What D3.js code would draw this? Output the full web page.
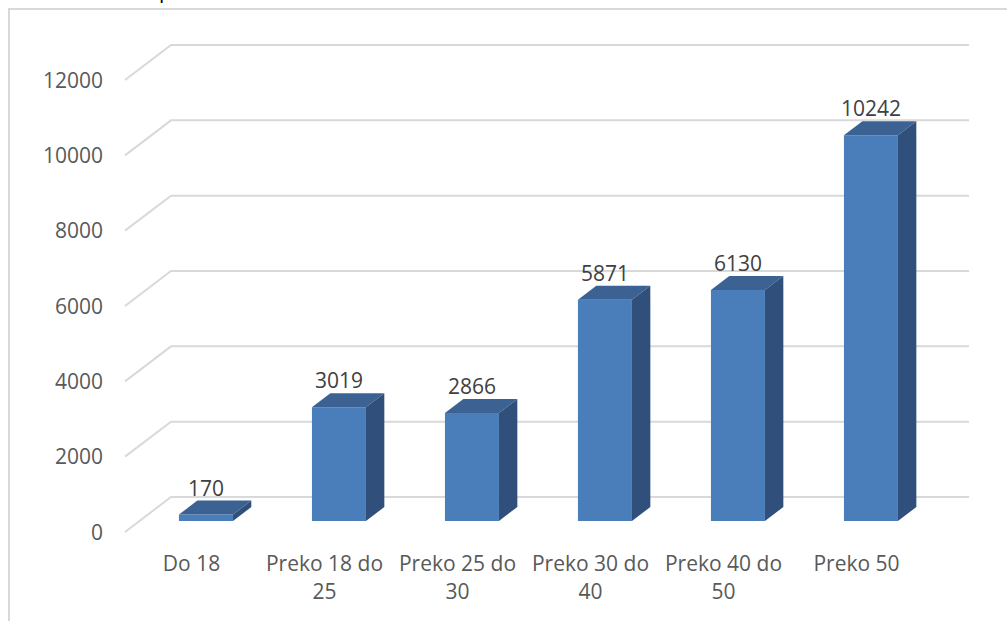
<!DOCTYPE html>
<html>
<head>
<meta charset="utf-8">
<script src="https://cdn.jsdelivr.net/npm/d3@7"></script>
<style>
  html, body { margin: 0; padding: 0; background: #fff; }
  svg { display: block; font-family: "Open Sans", sans-serif; }
</style>
</head>
<body>
<svg id="chart" width="1007" height="621"></svg>
<script>
// ===============================
// DATA
// ===============================

const categories = [
    ["Do 18"],
    ["Preko 18 do", "25"],
    ["Preko 25 do", "30"],
    ["Preko 30 do", "40"],
    ["Preko 40 do", "50"],
    ["Preko 50"]
];

const values = [170, 3019, 2866, 5871, 6130, 10242];

const yTicks = [0, 2000, 4000, 6000, 8000, 10000, 12000];

// ===============================
// SCALES + 3D PROJECTION
// ===============================

const svg = d3.select("#chart");

const depthX = 46, depthY = -35;   // full depth offset of the floor
const barZ0 = 0.314, barZ1 = 0.714; // bar sits in the middle of the depth

const x = d3.scaleBand()
    .domain(d3.range(categories.length))
    .range([125, 923])
    .paddingInner(0)
    .paddingOuter(0);

const y = d3.scaleLinear()
    .domain([0, 12000])
    .range([532, 80]);

function proj(px, v, z) {
    return [px + depthX * z, y(v) + depthY * z];
}

// ===============================
// FRAME + CUT-OFF TITLE
// ===============================

svg.append("text")
    .attr("x", 159)
    .attr("y", -2)
    .attr("font-size", 21)
    .attr("fill", "#000")
    .text("p");

svg.append("path")
    .attr("d", "M9,621 L9,9 L1007,9")
    .attr("fill", "none")
    .attr("stroke", "#d9d9d9")
    .attr("stroke-width", 2);

// ===============================
// GRIDLINES
// ===============================

const line = d3.line();

svg.append("g")
    .selectAll("path")
    .data(yTicks)
    .enter()
    .append("path")
    .attr("d", t => line([
        proj(x.range()[0], t, 0),
        proj(x.range()[0], t, 1),
        proj(x.range()[1], t, 1)
    ]))
    .attr("fill", "none")
    .attr("stroke", "#d9d9d9")
    .attr("stroke-width", 2);

// -------- Y LABELS --------

svg.append("g")
    .selectAll("text")
    .data(yTicks)
    .enter()
    .append("text")
    .attr("x", 103)
    .attr("y", t => y(t))
    .attr("dy", "0.36em")
    .attr("text-anchor", "end")
    .attr("font-size", 21)
    .attr("fill", "#595959")
    .text(t => t);

// ===============================
// BARS
// ===============================

const bw = x.bandwidth() * 0.406;

const bars = svg.append("g")
    .selectAll("g")
    .data(values)
    .enter()
    .append("g");

function barGeom(v, i) {
    const cx = x(i) + x.bandwidth() / 2;
    const l = cx - bw / 2, r = cx + bw / 2;
    return {
        fbl: proj(l, 0, barZ0), fbr: proj(r, 0, barZ0),
        ftl: proj(l, v, barZ0), ftr: proj(r, v, barZ0),
        btl: proj(l, v, barZ1), btr: proj(r, v, barZ1),
        bbr: proj(r, 0, barZ1)
    };
}

// front face
bars.append("path")
    .attr("d", (v, i) => {
        const g = barGeom(v, i);
        return line([g.fbl, g.fbr, g.ftr, g.ftl]) + "Z";
    })
    .attr("fill", "#4a7ebb");

// top face
bars.append("path")
    .attr("d", (v, i) => {
        const g = barGeom(v, i);
        return line([g.ftl, g.ftr, g.btr, g.btl]) + "Z";
    })
    .attr("fill", "#3b6293");

// right side
bars.append("path")
    .attr("d", (v, i) => {
        const g = barGeom(v, i);
        return line([g.fbr, g.bbr, g.btr, g.ftr]) + "Z";
    })
    .attr("fill", "#30507b");

// -------- VALUE LABELS --------

bars.append("text")
    .attr("x", (v, i) => barGeom(v, i).ftl[0] + bw / 2)
    .attr("y", (v, i) => barGeom(v, i).btl[1] - 5)
    .attr("text-anchor", "middle")
    .attr("font-size", 21)
    .attr("fill", "#404040")
    .text(v => v);

// ===============================
// CATEGORY LABELS
// ===============================

const catText = svg.append("g")
    .selectAll("text")
    .data(categories)
    .enter()
    .append("text")
    .attr("text-anchor", "middle")
    .attr("font-size", 21)
    .attr("fill", "#595959");

catText.selectAll("tspan")
    .data((lines, i) => lines.map(s => ({ s, i })))
    .enter()
    .append("tspan")
    .attr("x", d => x(d.i) + x.bandwidth() / 2)
    .attr("y", (d, j) => 571 + j * 28)
    .text(d => d.s);
</script>
</body>
</html>
